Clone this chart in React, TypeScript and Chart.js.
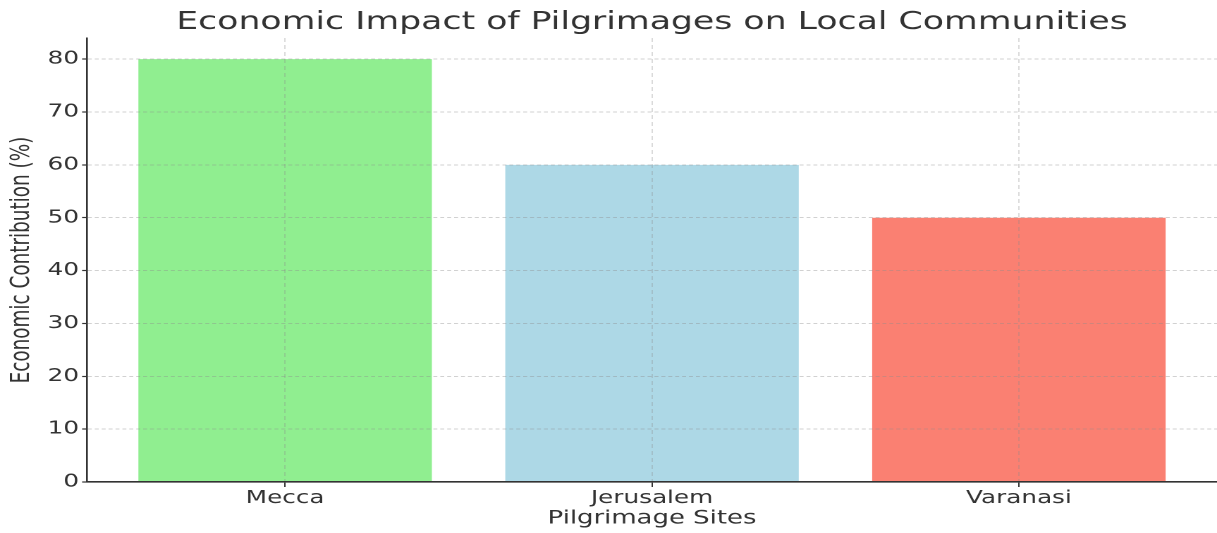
import React, { useEffect, useRef } from "react";
import { Chart, registerables } from "chart.js";

Chart.register(...registerables);

const TITLE = "Economic Impact of Pilgrimages on Local Communities";
const X_LABEL = "Pilgrimage Sites";
const Y_LABEL = "Economic Contribution (%)";
const CATEGORIES = ["Mecca", "Jerusalem", "Varanasi"];
const VALUES = [80, 60, 50];
const COLORS = ["#90EE90", "#ADD8E6", "#FA8072"];
const Y_TICKS = [0, 10, 20, 30, 40, 50, 60, 70, 80];
const Y_MAX = 84;
const X_MIN = -0.54;
const X_MAX = 2.54;

// the reference is horizontally stretched; draw at a narrower logical width and stretch via CSS
const SX = 1.41;
const W = 1217;
const H = 533;
const LW = Math.round(W / SX);

const FONT = "'DejaVu Sans', sans-serif";
const TEXT = "#333333";
const GRID = "rgba(140,140,140,0.4)";

export default function App() {
  const ref = useRef<HTMLCanvasElement | null>(null);

  useEffect(() => {
    document.body.style.margin = "0";
    const canvas = ref.current!;
    canvas.width = LW;
    canvas.height = H;
    canvas.style.width = W + "px";
    canvas.style.height = H + "px";

    const chart = new Chart(canvas, {
      type: "bar",
      data: {
        datasets: [
          {
            data: VALUES.map((v, i) => ({ x: i, y: v })),
            backgroundColor: COLORS,
            borderWidth: 0,
            categoryPercentage: 1,
            barPercentage: 0.8,
          },
        ],
      },
      options: {
        responsive: false,
        animation: false,
        devicePixelRatio: 2,
        layout: { padding: 0 },
        plugins: {
          legend: { display: false },
          tooltip: { enabled: false },
          title: {
            display: true,
            text: TITLE,
            color: TEXT,
            fullSize: false,
            font: { family: FONT, size: 24.6, weight: "normal", lineHeight: 1.2 },
            padding: { top: 8, bottom: 0.5 },
          },
        },
        scales: {
          x: {
            type: "linear",
            offset: false,
            min: X_MIN,
            max: X_MAX,
            afterBuildTicks: (s: any) => {
              s.ticks = CATEGORIES.map((_, i) => ({ value: i }));
            },
            afterFit: (s: any) => {
              s.height = 51;
            },
            ticks: {
              autoSkip: false,
              maxRotation: 0,
              color: TEXT,
              padding: 1,
              font: { family: FONT, size: 17.5 },
              callback: (v: any) => CATEGORIES[v] ?? "",
            },
            grid: {
              offset: false,
              color: GRID,
              lineWidth: 0.8,
              tickLength: 5,
              tickColor: TEXT,
              tickWidth: 1,
              tickBorderDash: [],
              z: 1,
            },
            border: { display: true, color: TEXT, width: 1.6, dash: [4, 3], z: 2 },
            title: {
              display: true,
              text: X_LABEL,
              color: TEXT,
              font: { family: FONT, size: 18.4 },
              padding: { top: 0, bottom: 3 },
            },
          },
          y: {
            type: "linear",
            min: 0,
            max: Y_MAX,
            afterBuildTicks: (s: any) => {
              s.ticks = Y_TICKS.map((v) => ({ value: v }));
            },
            afterFit: (s: any) => {
              s.width = 87 / SX;
            },
            ticks: {
              color: TEXT,
              padding: 2.2,
              font: { family: FONT, size: 17.5 },
            },
            grid: {
              color: GRID,
              lineWidth: 1,
              tickLength: 3.5,
              tickColor: TEXT,
              tickWidth: 1.2,
              tickBorderDash: [],
              z: 1,
            },
            border: { display: true, color: TEXT, width: 1.3, dash: [2.8, 2.1], z: 2 },
            title: {
              display: true,
              text: Y_LABEL,
              color: TEXT,
              font: { family: FONT, size: 18.4 },
              padding: { top: 4.6, bottom: 0 },
            },
          },
        },
      } as any,
    });
    return () => chart.destroy();
  }, []);

  return (
    <div style={{ width: W, height: H }}>
      <canvas ref={ref} width={LW} height={H} style={{ width: W, height: H, display: "block" }} />
    </div>
  );
}
